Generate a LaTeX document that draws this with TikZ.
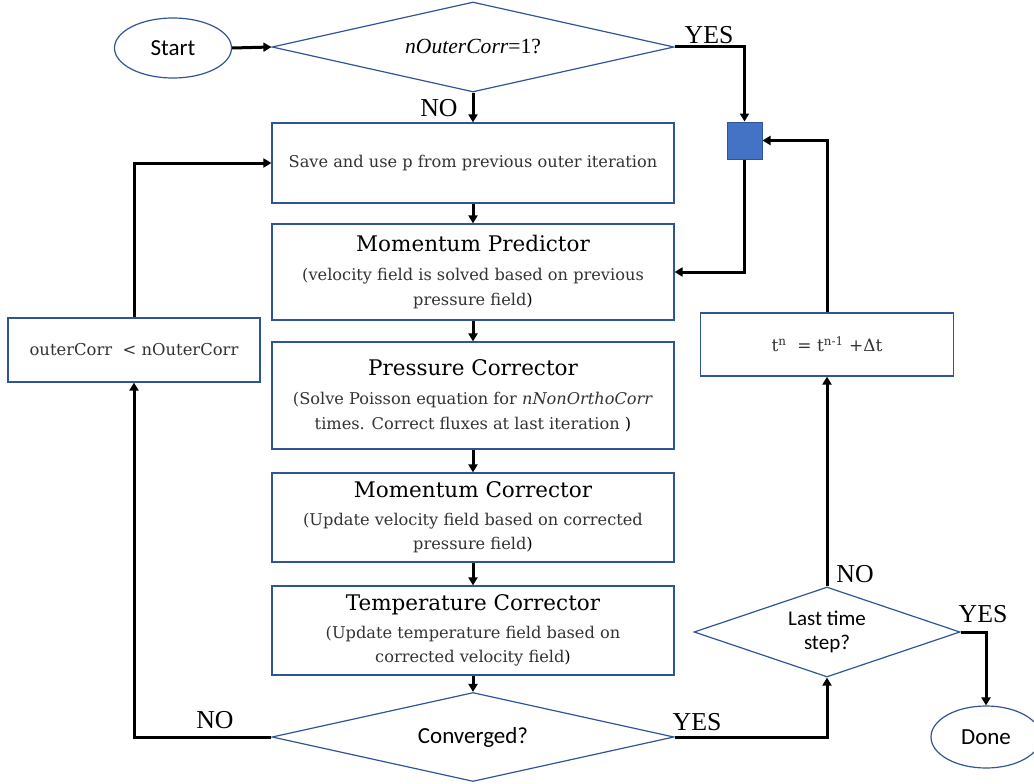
\documentclass[tikz,border=0pt]{standalone}
\usepackage{fontspec}
\setmainfont{DejaVu Serif}
\newfontfamily\labfont{Liberation Serif}
\newfontfamily\sansfont{Carlito}
\usetikzlibrary{arrows.meta,shapes.geometric}
\definecolor{boxblue}{RGB}{47,85,151}
\definecolor{sqfill}{RGB}{68,114,196}
\definecolor{bodygray}{RGB}{50,50,50}
\newcommand{\ttl}[1]{{\fontsize{21.5}{24}\selectfont\color{black}#1}}
\begin{document}
\begin{tikzpicture}[x=1pt,y=-1pt,
  conn/.style={line width=3pt,-{Triangle[length=8pt,width=9pt]}},
  boxshape/.style={draw=boxblue,line width=1.2pt,rectangle,inner sep=0pt,align=center,
     text=bodygray,font=\fontsize{16.2}{24.3}\selectfont},
  procbox/.style={boxshape,minimum width=402pt},
  decis/.style={draw=boxblue,line width=1.2pt,diamond,inner sep=0pt,align=center,aspect=2},
  term/.style={draw=boxblue,line width=1.2pt,ellipse,inner sep=0pt,font=\sansfont\fontsize{23}{26}\selectfont},
  lab/.style={font=\labfont\fontsize{25.8}{28}\selectfont,inner sep=0pt}
]
\useasboundingbox (0,0) rectangle (1034,784);

% terminals
\node[term,minimum width=117pt,minimum height=60pt] (start) at (173,48) {Start};
\node[term,minimum width=110pt,minimum height=62pt] (done) at (986,737) {Done};

% decisions
\node[decis,minimum width=402pt,minimum height=90pt,font=\labfont\fontsize{21.6}{24}\selectfont] (d1) at (473,47) {\itshape nOuterCorr\upshape=1?};
\node[decis,minimum width=402pt,minimum height=89pt,font=\sansfont\fontsize{23}{26}\selectfont] (conv) at (473,737) {Converged?};
\node[decis,minimum width=266pt,minimum height=90pt,font=\sansfont\fontsize{21}{24}\selectfont] (last) at (827,632) {Last time\\step?};

% process boxes
\node[procbox,minimum height=80pt] (b1) at (473,163) {Save and use p from previous outer iteration};
\node[procbox,minimum height=96pt] (b2) at (473,272) {\ttl{Momentum Predictor}\\[5pt](velocity field is solved based on previous\\pressure field\textcolor{black}{)}};
\node[procbox,minimum height=107pt] (b3) at (473,395.5) {\ttl{Pressure Corrector}\\[5pt](Solve Poisson equation for \textit{nNonOrthoCorr}\\times. Correct fluxes at last iteration \textcolor{black}{)}};
\node[procbox,minimum height=89pt] (b4) at (473,517.5) {\ttl{Momentum Corrector}\\[3pt](Update velocity field based on corrected\\pressure field\textcolor{black}{)}};
\node[procbox,minimum height=89pt] (b5) at (473,630.5) {\ttl{Temperature Corrector}\\[3pt](Update temperature field based on\\corrected velocity field\textcolor{black}{)}};

\node[boxshape,minimum width=252pt,minimum height=64pt,font=\fontsize{16.4}{20}\selectfont] (outer) at (134,350) {outerCorr\ \ < nOuterCorr};
\node[boxshape,minimum width=253pt,minimum height=63pt,font=\fontsize{17}{20}\selectfont] (tn) at (827,344.5) {t\textsuperscript{n}\ \ = t\textsuperscript{n-1} +Δt};

\node[draw=boxblue,line width=1pt,fill=sqfill,minimum width=35pt,minimum height=37pt,inner sep=0pt] (sq) at (744.5,140.5) {};

% connectors
\draw[conn] (start.east) -- (d1.west);
\draw[conn] (d1.east) -| (sq.north);
\draw[conn] (d1.south) -- (b1.north);
\draw[conn] (b1.south) -- (b2.north);
\draw[conn] (b2.south) -- (b3.north);
\draw[conn] (b3.south) -- (b4.north);
\draw[conn] (b4.south) -- (b5.north);
\draw[conn] (b5.south) -- (conv.north);
\draw[conn] (sq.south) |- (b2.east);
\draw[conn] (conv.west) -| (outer.south);
\draw[conn] (outer.north) |- (b1.west);
\draw[conn] (conv.east) -| (last.south);
\draw[conn] (last.north) -- (tn.south);
\draw[conn] (tn.north) |- (sq.east);
\draw[conn] (last.east) -| (done.north);

% labels
\node[lab] (y1) at (709,35) {YES};
\node[lab] (n1) at (439,108) {NO};
\node[lab] (n2) at (215,720) {NO};
\node[lab] (y2) at (697,722) {YES};
\node[lab] (n3) at (855,574) {NO};
\node[lab] (y3) at (983,614) {YES};
\end{tikzpicture}
\end{document}
